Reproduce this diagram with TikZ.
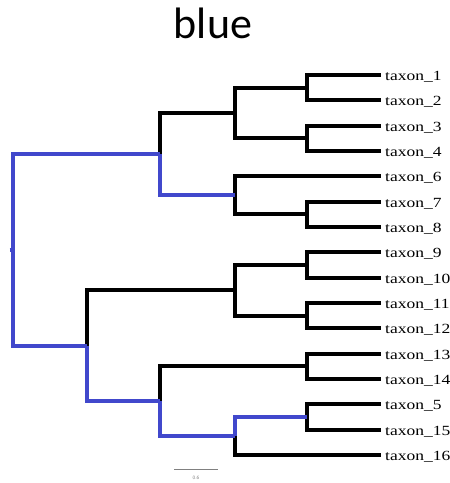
\documentclass[tikz,border=0pt]{standalone}
\usepackage{fontspec}
\setmainfont{Liberation Serif}
\newfontfamily\titlefont{Carlito}
\newfontfamily\labfont[FakeStretch=1.25]{Liberation Serif}
\definecolor{treeblue}{RGB}{65,72,204}
\begin{document}
\begin{tikzpicture}[x=1pt,y=-1pt,
  edge/.style={line width=4.3pt,line join=miter,black},
  bedge/.style={edge,treeblue},
  lab/.style={anchor=base west,inner sep=0pt,font=\labfont\fontsize{14}{16}\selectfont},
  scalebar/.style={line width=0.8pt,gray}]
\useasboundingbox (0,0) rectangle (450,483);
% title
\node[anchor=base,inner sep=0pt,font=\titlefont\fontsize{44}{50}\selectfont] (title) at (213,38) {blue};
% internal nodes
\coordinate (R) at (13,250);
\coordinate (R0) at (9.5,250);
\coordinate (A) at (160,154.2);
\coordinate (P) at (235,113);
\coordinate (Q) at (235,195.3);
\coordinate (N12) at (307,87.7);
\coordinate (N34) at (307,138.3);
\coordinate (N78) at (307,214.3);
\coordinate (C) at (87,345.7);
\coordinate (S) at (235,290.3);
\coordinate (N910) at (307,265);
\coordinate (N1112) at (307,315.7);
\coordinate (D) at (160,401.2);
\coordinate (N1314) at (307,366.3);
\coordinate (E) at (235,436);
\coordinate (F) at (307,417);
% leaves
\foreach \n/\yy in {1/75,2/100.3,3/125.7,4/151,6/176.3,7/201.7,8/227,9/252.3,10/277.7,11/303,12/328.3,13/353.7,14/379,5/404.3,15/429.7,16/455}{
  \coordinate (l\n) at (381,\yy);
  \node[lab] (t\n) at (385,\yy+5.5) {taxon\_\n};
}
% black edges
\draw[edge] (N12) |- (l1); \draw[edge] (N12) |- (l2);
\draw[edge] (N34) |- (l3); \draw[edge] (N34) |- (l4);
\draw[edge] (P) |- (N12); \draw[edge] (P) |- (N34);
\draw[edge] (N78) |- (l7); \draw[edge] (N78) |- (l8);
\draw[edge] (Q) |- (l6); \draw[edge] (Q) |- (N78);
\draw[edge] (A) |- (P);
\draw[edge] (N910) |- (l9); \draw[edge] (N910) |- (l10);
\draw[edge] (N1112) |- (l11); \draw[edge] (N1112) |- (l12);
\draw[edge] (S) |- (N910); \draw[edge] (S) |- (N1112);
\draw[edge] (C) |- (S);
\draw[edge] (N1314) |- (l13); \draw[edge] (N1314) |- (l14);
\draw[edge] (D) |- (N1314);
\draw[edge] (F) |- (l5); \draw[edge] (F) |- (l15);
\draw[edge] (E) |- (l16);
% blue edges
\draw[bedge] (R) |- (A);
\draw[bedge] (A) |- (Q);
\draw[bedge] (R) |- (C);
\draw[bedge] (C) |- (D);
\draw[bedge] (D) |- (E);
\draw[bedge] (E) |- (F);
\draw[treeblue,line width=3.5pt] (R0) -- (R);
% scale bar
\coordinate (sb1) at (174,469);
\coordinate (sb2) at (218,469);
\draw[scalebar] (sb1) -- (sb2);
\node[inner sep=0pt,font=\sffamily\fontsize{5}{6}\selectfont,text=gray] (sbl) at (196,477.5) {0.6};
\end{tikzpicture}
\end{document}
